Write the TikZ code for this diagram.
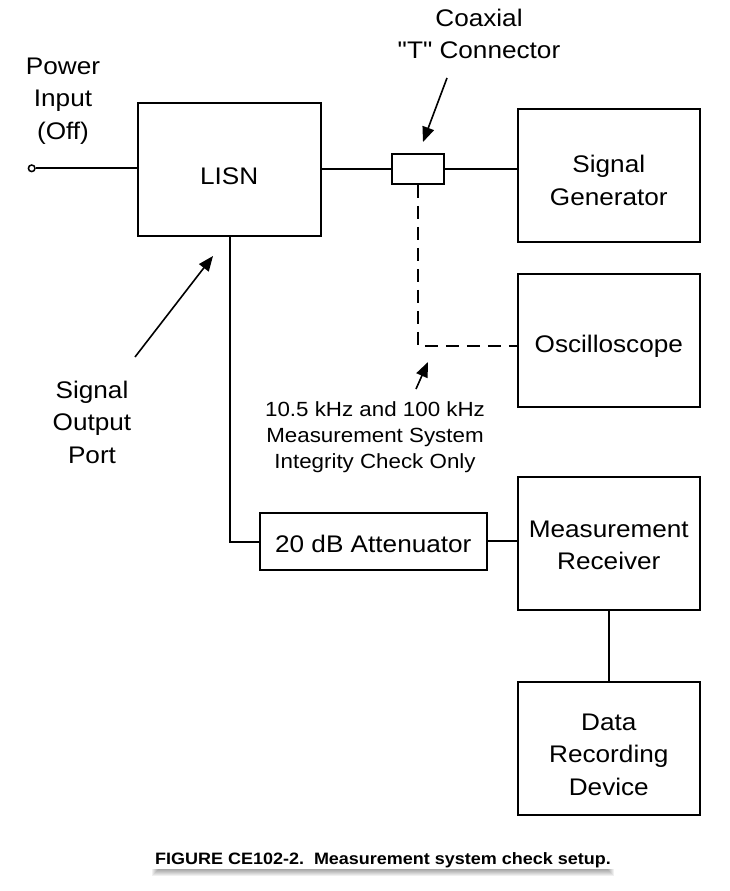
\documentclass[tikz,border=0pt]{standalone}
\usepackage{fontspec}
\setmainfont{Liberation Sans}[FakeStretch=1.09]
\newfontfamily\rawfont{Liberation Sans}[FakeStretch=1.09]
\usetikzlibrary{arrows.meta,backgrounds}
\begin{document}
\begin{tikzpicture}[x=1pt,y=-1pt,
  box/.style={draw, line width=1.9pt, inner sep=0pt},
  lbl/.style={font=\fontsize{24}{32.5}\selectfont, align=center, inner sep=0pt},
  smalllbl/.style={font=\fontsize{20.5}{26}\selectfont, align=center, inner sep=0pt},
  wire/.style={line width=1.9pt},
  dwire/.style={line width=1.9pt, dash pattern=on 13pt off 8pt},
  pointer/.style={line width=1.6pt, -{Triangle[length=15pt,width=12pt]}}]
\useasboundingbox (0,0) rectangle (729,891);

% boxes
\node[box, minimum width=183pt, minimum height=132.4pt] (lisn) at (229.2,169.5) {};
\node[box, minimum width=52pt, minimum height=30pt] (tconn) at (418,169) {};
\node[box, minimum width=182.3pt, minimum height=132.7pt] (siggen) at (608.8,175.3) {};
\node[box, minimum width=182.3pt, minimum height=132.7pt] (osc) at (608.8,340.3) {};
\node[box, minimum width=226.7pt, minimum height=57.3pt] (atten) at (373.3,541.3) {};
\node[box, minimum width=182.3pt, minimum height=133.3pt] (recv) at (608.8,543.3) {};
\node[box, minimum width=182.3pt, minimum height=133.3pt] (data) at (608.8,748.3) {};
\node[circle, draw, line width=1.5pt, minimum size=6.6pt, inner sep=0pt] (pin) at (31.7,168.3) {};

% box texts
\node[lbl] at ([yshift=-6.5pt]lisn.center) {LISN};
\node[lbl] at ([yshift=-5pt]siggen.center) {Signal\\Generator};
\node[lbl] at ([yshift=-6pt]osc.center) {Oscilloscope};
\node[lbl] at ([yshift=-3pt]atten.center) {20 dB Attenuator};
\node[lbl] at ([yshift=-2pt]recv.center) {Measurement\\Receiver};
\node[lbl] at ([yshift=-6.5pt]data.center) {Data\\Recording\\Device};

% free labels
\node[lbl] (pwrlbl) at (63,101) {Power\\Input\\(Off)};
\node[lbl] (coaxlbl) at (479,34) {Coaxial\\{\rawfont"T"} Connector};
\node[lbl] (sigoutlbl) at (92,422) {Signal\\Output\\Port};
\node[smalllbl] (checklbl) at (375,437) {10.5 kHz and 100 kHz\\Measurement System\\Integrity Check Only};

% connectors
\draw[wire] (pin.east) -- (pin -| lisn.west);
\draw[wire] (tconn.west -| lisn.east) -- (tconn.west);
\draw[wire] (tconn.east) -- (tconn.east -| siggen.west);
\coordinate (dcorner) at (418,346);
\draw[dwire] (tconn.south) -- (dcorner) -- (dcorner -| osc.west);
\coordinate (lcorner) at (230,541.7);
\draw[wire] (lcorner |- lisn.south) -- (lcorner) -- (lcorner -| atten.west);
\draw[wire] (atten.east) -- (atten.east -| recv.west);
\draw[wire] (recv.south) -- (data.north);

% pointers
\coordinate (ca1) at (447,78);
\coordinate (ca2) at (423,142);
\draw[pointer] (ca1) -- (ca2);
\coordinate (sa1) at (135,357);
\coordinate (sa2) at (213,256);
\draw[pointer] (sa1) -- (sa2);
\coordinate (ka1) at (416,389);
\coordinate (ka2) at (428,362);
\draw[pointer] (ka1) -- (ka2);

% caption
\node[font=\bfseries\fontsize{16.5}{20}\selectfont, fill=white, inner xsep=3pt, inner ysep=1.5pt] (cap) at (383,860) {FIGURE CE102-2.\ \ Measurement system check setup.};
\begin{pgfonlayer}{background}
\foreach \i in {0,...,6}{
  \fill[black, opacity=0.06] ([xshift=\i pt, yshift=-7pt+\i pt]cap.south west) rectangle ([xshift=-\i pt]cap.north east);
}
\end{pgfonlayer}
\end{tikzpicture}
\end{document}
